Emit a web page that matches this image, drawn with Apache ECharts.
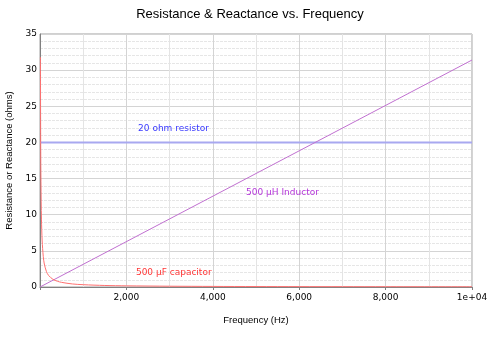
<!DOCTYPE html>
<html>
<head>
<meta charset="utf-8">
<script src="https://cdn.jsdelivr.net/npm/echarts@6/dist/echarts.min.js"></script>
<style>
  html, body { margin: 0; padding: 0; background: #fff; }
  #chart { width: 500px; height: 340px; }
</style>
</head>
<body>
<div id="chart"></div>
<script>
// Frequency sweep (Hz) and the reactance / resistance read at each point (ohms)
const capFreq = [10, 15, 20, 30, 40, 50, 75, 100, 150, 200, 300, 400, 500, 750, 1000, 1500, 2000, 3000, 4000, 5000, 6000, 8000, 10000];
const capOhms = [31.8, 21.2, 15.9, 10.6, 7.96, 6.37, 4.24, 3.18, 2.12, 1.59, 1.06, 0.80, 0.64, 0.42, 0.32, 0.21, 0.16, 0.11, 0.08, 0.064, 0.053, 0.040, 0.032];
const indFreq = [0, 10000];
const indOhms = [0, 31.4];
const resFreq = [0, 10000];
const resOhms = [20, 20];

// Annotation text and anchor (frequency, ohms)
const labelText = ['20 ohm resistor', '500 \u03bcH Inductor', '500 \u03bcF capacitor'];
const labelFreq = [2270, 4770, 2220];
const labelOhms = [21.85, 13.1, 1.95];
const labelColor = ['#0000ff', '#a000d0', '#ff0000'];

const xTicks = [2000, 4000, 6000, 8000, 10000];
const xTickText = ['2,000', '4,000', '6,000', '8,000', '1e+04'];

const zip = (a, b) => a.map((v, i) => [v, b[i]]);
const font = 'DejaVu Sans';
const nameFont = 'Liberation Sans';

const chart = echarts.init(document.getElementById('chart'), null, { renderer: 'canvas' });
chart.setOption({
  animation: false,
  backgroundColor: '#ffffff',
  title: {
    text: 'Resistance & Reactance vs. Frequency',
    left: 'center', top: 3,
    textStyle: { fontFamily: nameFont, fontSize: 13, fontWeight: 'normal', color: '#000' }
  },
  grid: {
    left: 40, right: 28, top: 34, bottom: 53,
    containLabel: false, outerBoundsMode: 'none',
    show: true, borderColor: '#a0a0a0', borderWidth: 1
  },
  xAxis: {
    type: 'value', min: 0, max: 10000, interval: 2000,
    name: 'Frequency (Hz)', nameLocation: 'middle', nameGap: 28,
    nameTextStyle: { fontFamily: nameFont, fontSize: 9.5, color: '#000' },
    axisLine: { lineStyle: { color: '#808080' } },
    axisTick: { show: true, length: 3, lineStyle: { color: '#808080' } },
    axisLabel: {
      fontFamily: font, fontSize: 9, color: '#000', margin: 6,
      formatter: v => { const i = xTicks.indexOf(v); return i >= 0 ? xTickText[i] : ''; }
    },
    splitLine: { show: true, lineStyle: { color: '#d4d4d4' } },
    minorTick: { show: false, splitNumber: 2 },
    minorSplitLine: { show: true, lineStyle: { color: '#e4e4e4' } }
  },
  yAxis: {
    type: 'value', min: 0, max: 35, interval: 5,
    name: 'Resistance or Reactance (ohms)', nameLocation: 'middle', nameGap: 26,
    nameTextStyle: { fontFamily: nameFont, fontSize: 9.5, color: '#000' },
    axisLine: { show: true, lineStyle: { color: '#808080' } },
    axisTick: { show: false },
    axisLabel: { fontFamily: font, fontSize: 9, color: '#000', margin: 3 },
    splitLine: { show: true, lineStyle: { color: '#d4d4d4' } },
    minorTick: { show: false, splitNumber: 5 },
    minorSplitLine: { show: true, lineStyle: { color: '#e6e6e6', type: [3, 1] } }
  },
  series: [
    {
      name: 'resistor', type: 'line', data: zip(resFreq, resOhms), showSymbol: false,
      lineStyle: { color: '#a8a8f0', width: 2 }, z: 3
    },
    {
      name: 'inductor', type: 'line', data: zip(indFreq, indOhms), showSymbol: false,
      lineStyle: { color: '#c070d0', width: 1 }, z: 4
    },
    {
      name: 'capacitor', type: 'line', data: zip(capFreq, capOhms), showSymbol: false, smooth: 0.3,
      lineStyle: { color: '#ff7070', width: 1 }, z: 5
    },
    {
      name: 'labels', type: 'scatter', symbolSize: 0, z: 6,
      data: labelText.map((t, i) => ({
        value: [labelFreq[i], labelOhms[i]],
        label: {
          show: true, position: 'right', distance: 0, formatter: t,
          fontFamily: font, fontSize: 9, color: labelColor[i]
        }
      }))
    }
  ]
});
</script>
</body>
</html>
